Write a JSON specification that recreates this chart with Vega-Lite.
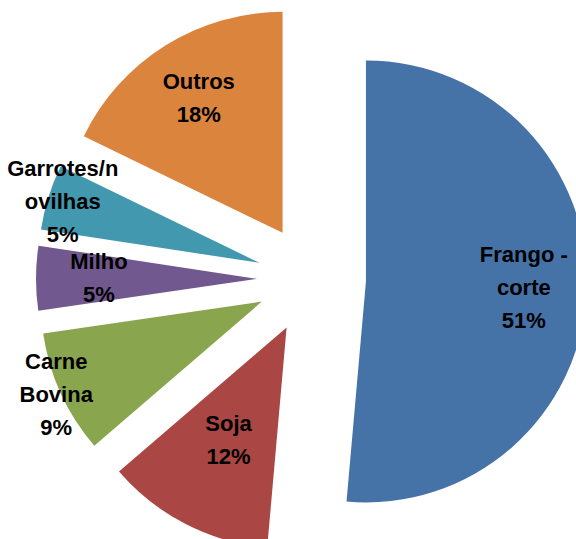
{
  "$schema": "https://vega.github.io/schema/vega-lite/v6.json",
  "width": 576,
  "height": 539,
  "autosize": {"type": "none"},
  "padding": 0,
  "background": "white",
  "config": {"view": {"stroke": null}},
  "data": {
    "values": [
      {"name": "Frango - corte", "display": "Frango -|corte", "value": 51.4},
      {"name": "Soja", "display": "Soja", "value": 12.3},
      {"name": "Carne Bovina", "display": "Carne|Bovina", "value": 9.0},
      {"name": "Milho", "display": "Milho", "value": 4.7},
      {"name": "Garrotes/novilhas", "display": "Garrotes/n|ovilhas", "value": 4.8},
      {"name": "Outros", "display": "Outros", "value": 17.8}
    ]
  },
  "transform": [
    {"window": [{"op": "sum", "field": "value", "as": "cumEnd"}], "frame": [null, 0]},
    {"calculate": "datum.cumEnd - datum.value", "as": "cumStart"},
    {"calculate": "(datum.cumStart + datum.cumEnd) / 100 * PI", "as": "mid"},
    {"calculate": "54.5 * sin(datum.mid)", "as": "ex"},
    {"calculate": "54.5 * cos(datum.mid)", "as": "ey"},
    {"calculate": "datum.display + '|' + round(datum.value) + '%'", "as": "label"},
    {"calculate": "length(split(datum.label, '|'))", "as": "nLines"},
    {"calculate": "datum.name == 'Garrotes/novilhas' ? 206 : datum.name == 'Carne Bovina' ? 226 : datum.name == 'Soja' ? 127 : 158", "as": "lr"},
    {"calculate": "datum.ex + datum.lr * sin(datum.mid)", "as": "lx"},
    {"calculate": "datum.ey + datum.lr * cos(datum.mid) + (datum.nLines - 1) / 2 * 33", "as": "ly"}
  ],
  "layer": [
    {
      "mark": {"type": "arc", "outerRadius": 221},
      "encoding": {
        "x": {"field": "ex", "type": "quantitative", "scale": {"domain": [-311.5, 264.5], "nice": false, "zero": false}, "axis": null},
        "y": {"field": "ey", "type": "quantitative", "scale": {"domain": [-260, 279], "nice": false, "zero": false}, "axis": null},
        "theta": {"field": "cumStart", "type": "quantitative", "stack": null, "scale": {"domain": [0, 100]}},
        "theta2": {"field": "cumEnd"},
        "color": {
          "field": "name", "type": "nominal", "legend": null,
          "scale": {
            "domain": ["Frango - corte", "Soja", "Carne Bovina", "Milho", "Garrotes/novilhas", "Outros"],
            "range": ["#4572A7", "#AA4643", "#89A54E", "#71588F", "#4198AF", "#DB843D"]
          }
        }
      }
    },
    {
      "mark": {"type": "text", "font": "Liberation Sans", "fontWeight": "bold", "fontSize": 22, "lineBreak": "|", "lineHeight": 33, "align": "center", "baseline": "middle", "color": "black"},
      "encoding": {
        "x": {"field": "lx", "type": "quantitative"},
        "y": {"field": "ly", "type": "quantitative"},
        "text": {"field": "label"}
      }
    }
  ]
}
